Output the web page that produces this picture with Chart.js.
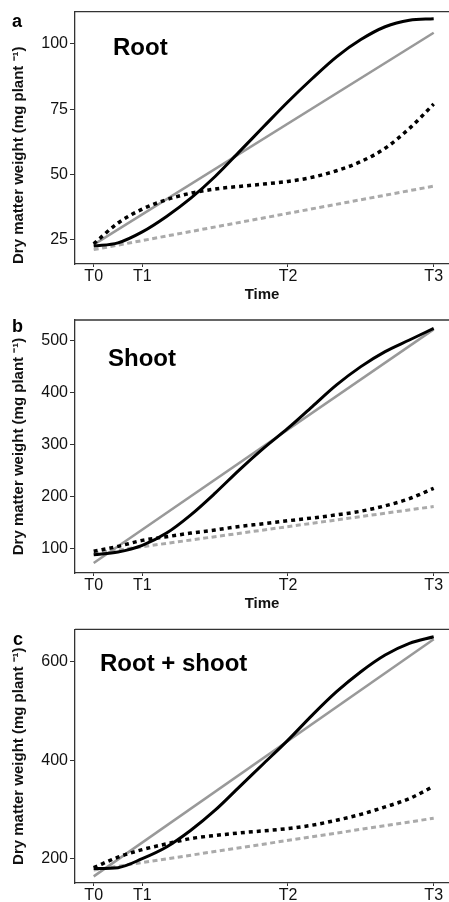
<!DOCTYPE html>
<html lang="en">
<head>
    <meta charset="UTF-8">
    <title>Dry matter weight over time</title>
    <script src="https://cdn.jsdelivr.net/npm/chart.js"></script>
    <style>
        body { margin: 0; background: #fff; overflow: hidden; }
        .panel { position: absolute; left: 0; width: 449px; }
        #panelA { top: 0; height: 304px; }
        #panelB { top: 304px; height: 309px; }
        #panelC { top: 613px; height: 289px; }
    </style>
</head>
<body>
<div class="panel" id="panelA"><canvas id="chartA"></canvas></div>
<div class="panel" id="panelB"><canvas id="chartB"></canvas></div>
<div class="panel" id="panelC"><canvas id="chartC"></canvas></div>

<script>
    // time axis
    const sampleTimes = [0, 0.5, 1, 1.5, 2, 2.5, 3, 3.5, 4, 4.5, 5, 5.5, 6, 6.5, 7];
    const lineTimes = [0, 7];
    const tickTimes = [0, 1, 4, 7];
    const tickLabels = ['T0', 'T1', 'T2', 'T3'];

    // a: root
    const rootSolidBlack = [22.7, 23.9, 28.1, 34.0, 41.0, 49.3, 58.8, 68.4, 77.9, 86.8, 95.1, 101.7, 106.6, 109.1, 109.7];
    const rootDotBlack = [23.5, 31.5, 36.8, 40.4, 42.9, 44.5, 45.5, 46.4, 47.4, 49.0, 51.5, 55.0, 60.1, 67.7, 77.0];
    const rootSolidGray = [23.2, 104.3];
    const rootDotGray = [21.3, 45.6];
    const rootTicks = [25, 50, 75, 100];

    // b: shoot
    const shootSolidBlack = [88.5, 93.6, 106.4, 130, 165, 206.7, 251.4, 293, 331.3, 372.8, 414.4, 449.5, 478.3, 500.6, 523];
    const shootDotBlack = [95, 104.5, 116, 123, 130, 136, 142.8, 148, 153.7, 159, 165, 172, 182.4, 196, 216];
    const shootSolidGray = [72.5, 521];
    const shootDotGray = [91, 181];
    const shootTicks = [100, 200, 300, 400, 500];

    // c: root + shoot
    const totalSolidBlack = [179.7, 181.7, 200, 223.7, 257.6, 298.3, 345.8, 393.2, 440.7, 491.5, 539, 579.7, 613.6, 637.3, 650.8];
    const totalDotBlack = [181.7, 203, 218.3, 230, 240.7, 247, 252.2, 256.5, 261, 268, 278, 290, 305, 322, 347];
    const totalSolidGray = [164, 645.4];
    const totalDotGray = [177, 282];
    const totalTicks = [200, 400, 600];

    const FONT = "'Liberation Sans', Arial, sans-serif";
    Chart.defaults.font.family = FONT;
    Chart.defaults.color = '#111';

    function pts(times, vals) {
        return times.map((t, i) => ({ x: t, y: vals[i] }));
    }

    // top frame line, panel letter and panel title
    const panelDecor = {
        id: 'panelDecor',
        afterDraw(chart, args, opts) {
            const { ctx, chartArea } = chart;
            ctx.save();
            ctx.strokeStyle = '#333';
            ctx.lineWidth = 1.3;
            ctx.beginPath();
            ctx.moveTo(chartArea.left, chartArea.top);
            ctx.lineTo(chartArea.right, chartArea.top);
            ctx.stroke();
            ctx.fillStyle = '#000';
            ctx.textBaseline = 'middle';
            ctx.font = 'bold 18px ' + FONT;
            ctx.fillText(opts.letter, opts.letterX, opts.letterY);
            ctx.font = 'bold 24px ' + FONT;
            ctx.fillText(opts.title, chartArea.left + opts.titleDx, chartArea.top + opts.titleDy);
            ctx.restore();
        }
    };

    function makePanel(id, p) {
        return new Chart(document.getElementById(id), {
            type: 'line',
            data: {
                datasets: [
                    { data: pts(sampleTimes, p.solidBlack), borderColor: '#000', borderWidth: 3, cubicInterpolationMode: 'monotone' },
                    { data: pts(sampleTimes, p.dotBlack), borderColor: '#000', borderWidth: 3.5, borderDash: [4, 4], cubicInterpolationMode: 'monotone' },
                    { data: pts(lineTimes, p.solidGray), borderColor: '#999', borderWidth: 2.5 },
                    { data: pts(lineTimes, p.dotGray), borderColor: '#aaa', borderWidth: 3, borderDash: [5, 3.5] }
                ]
            },
            options: {
                responsive: true,
                maintainAspectRatio: false,
                animation: false,
                elements: { point: { radius: 0 }, line: { borderCapStyle: 'butt' } },
                layout: { padding: { top: p.padTop, left: 0, right: 0, bottom: 0 } },
                plugins: {
                    legend: { display: false },
                    tooltip: { enabled: false },
                    panelDecor: { letter: p.letter, letterX: p.letterX, letterY: p.letterY, title: p.title, titleDx: p.titleDx, titleDy: p.titleDy }
                },
                scales: {
                    x: {
                        type: 'linear',
                        min: -0.385,
                        max: 7.315,
                        afterBuildTicks: s => { s.ticks = tickTimes.map(v => ({ value: v })); },
                        afterFit: s => { s.height = p.xHeight; },
                        ticks: { autoSkip: false, maxRotation: 0, padding: 0, font: { size: 16 }, callback: (v, i) => tickLabels[i] },
                        grid: { drawOnChartArea: false, tickLength: 3, color: '#333' },
                        border: { display: true, color: '#333', width: 1.3 },
                        title: { display: p.showTime, text: 'Time', font: { size: 15, weight: 'bold' }, padding: { top: 0, bottom: 0 } }
                    },
                    y: {
                        min: p.yMin,
                        max: p.yMax,
                        afterBuildTicks: s => { s.ticks = p.yTicks.map(v => ({ value: v })); },
                        afterFit: s => { s.width = 75; },
                        ticks: { padding: 2, font: { size: 16 }, callback: v => String(v) },
                        grid: { drawOnChartArea: false, tickLength: 5, color: '#333' },
                        border: { display: true, color: '#333', width: 1.3 },
                        title: {
                            display: true,
                            text: 'Dry matter weight (mg plant \u207B\u00B9)',
                            align: p.titleAlign,
                            font: { size: 15, weight: 'bold' },
                            padding: { top: 10, bottom: 0 }
                        }
                    }
                }
            },
            plugins: [panelDecor]
        });
    }

    makePanel('chartA', {
        solidBlack: rootSolidBlack, dotBlack: rootDotBlack, solidGray: rootSolidGray, dotGray: rootDotGray,
        yMin: 15.8, yMax: 112.4, yTicks: rootTicks, padTop: 11, xHeight: 40, showTime: true, titleAlign: 'start',
        letter: 'a', letterX: 12, letterY: 22, title: 'Root', titleDx: 38, titleDy: 37
    });
    makePanel('chartB', {
        solidBlack: shootSolidBlack, dotBlack: shootDotBlack, solidGray: shootSolidGray, dotGray: shootDotGray,
        yMin: 53.4, yMax: 539, yTicks: shootTicks, padTop: 16, xHeight: 40, showTime: true, titleAlign: 'center',
        letter: 'b', letterX: 12, letterY: 23, title: 'Shoot', titleDx: 33, titleDy: 39
    });
    makePanel('chartC', {
        solidBlack: totalSolidBlack, dotBlack: totalDotBlack, solidGray: totalSolidGray, dotGray: totalDotGray,
        yMin: 150.5, yMax: 665.8, yTicks: totalTicks, padTop: 16.3, xHeight: 19, showTime: false, titleAlign: 'center',
        letter: 'c', letterX: 13, letterY: 27, title: 'Root + shoot', titleDx: 25, titleDy: 35
    });
</script>
</body>
</html>
